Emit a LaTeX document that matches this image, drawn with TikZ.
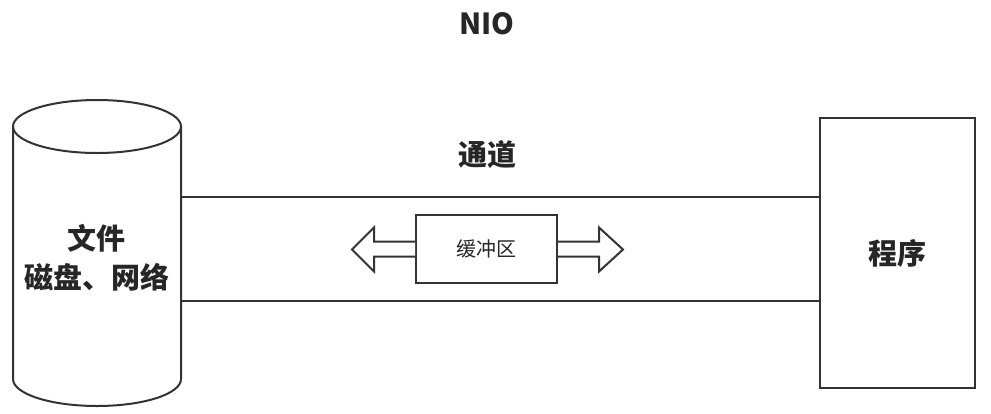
\documentclass[tikz,border=0pt]{standalone}
\usepackage{fontspec}
\usetikzlibrary{calc}
\setmainfont{Noto Sans CJK SC}
\begin{document}
\begin{tikzpicture}[x=1pt,y=-1pt,
  ln/.style={draw=black!80,line width=2pt},
  boxst/.style={ln,fill=white,inner sep=0pt},
  big/.style={font=\fontsize{29}{35}\selectfont\bfseries,text=black!85},
  small/.style={font=\fontsize{20}{24}\selectfont,text=black!85}]
\useasboundingbox (0,0) rectangle (991,413);
% title
\node[big] (title) at (487,24) {NIO};
% cylinder
\coordinate (ct) at (97,126.5);
\coordinate (cb) at (97,379);
\draw[ln,line join=round] ([xshift=-84pt]ct) -- ([xshift=-84pt]cb) arc[start angle=180,end angle=360,x radius=84,y radius=-27] -- ([xshift=84pt]ct);
\draw[ln] (ct) ellipse[x radius=84,y radius=26.5];
\node[big,align=center] (file) at (97,257.5) {文件\\[4pt]磁盘、网络};
% program
\node[boxst,minimum width=155pt,minimum height=270pt] (prog) at (897.5,253) {};
\node[big] (progtxt) at (prog.center) {程序};
% channel
\coordinate (ch1) at (181,197);
\coordinate (ch2) at (181,301);
\draw[ln] (ch1) -- (ch1 -| prog.west);
\draw[ln] (ch2) -- (ch2 -| prog.west);
\node[big] (chan) at (487,155) {通道};
% buffer
\node[boxst,minimum width=141pt,minimum height=68pt] (buf) at (486.5,249) {};
\node[small] (buftxt) at (buf.center) {缓冲区};
\draw[ln,line join=miter,fill=white] ($(buf.west)+(0,-7.5)$) -- ++(-41,0) -- ++(0,-14) -- ++(-22,22) -- ++(22,22) -- ++(0,-15) -- ($(buf.west)+(0,7.5)$);
\draw[ln,line join=miter,fill=white] ($(buf.east)+(0,-7.5)$) -- ++(41,0) -- ++(0,-14) -- ++(24,22) -- ++(-24,22) -- ++(0,-15) -- ($(buf.east)+(0,7.5)$);
\end{tikzpicture}
\end{document}
